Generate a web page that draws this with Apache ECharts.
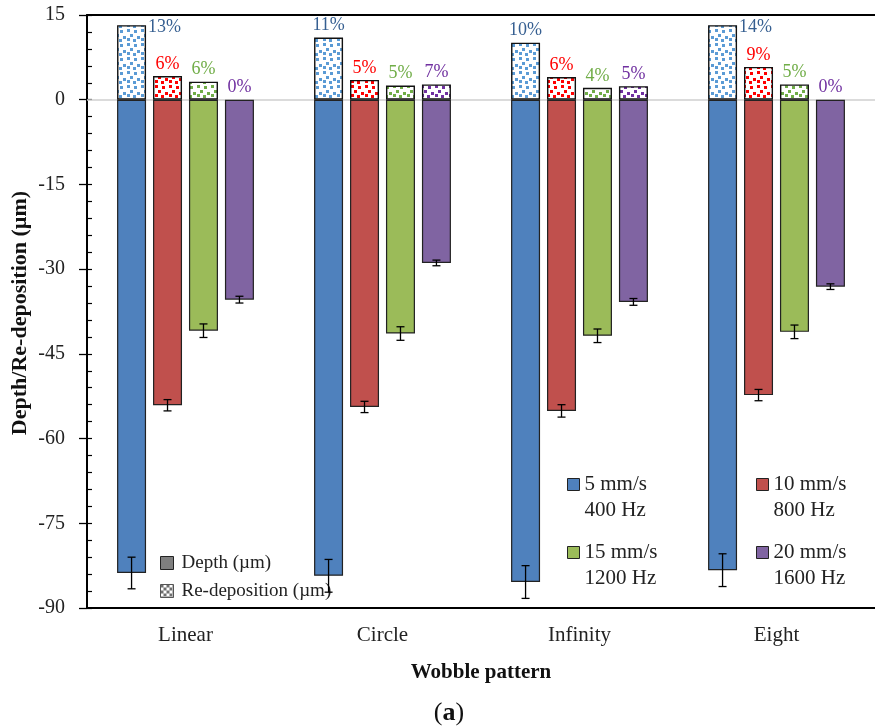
<!DOCTYPE html>
<html>
<head>
<meta charset="utf-8">
<script src="https://cdn.jsdelivr.net/npm/echarts@6/dist/echarts.min.js"></script>
<style>html,body{margin:0;padding:0;background:#fff}#c{width:875px;height:726px}</style>
</head>
<body>
<div id="c"></div>
<script>
// ---- data ----
const categories = ['Linear', 'Circle', 'Infinity', 'Eight'];
const speedNames = ['5 mm/s\n400 Hz', '10 mm/s\n800 Hz', '15 mm/s\n1200 Hz', '20 mm/s\n1600 Hz'];
const depth5  = [-83.8, -84.3, -85.4, -83.3];
const depth10 = [-54.1, -54.4, -55.1, -52.3];
const depth15 = [-40.9, -41.4, -41.8, -41.1];
const depth20 = [-35.4, -28.9, -35.8, -33.1];
const err5  = [2.8, 2.9, 2.9, 2.9];
const err10 = [1.0, 1.0, 1.1, 1.0];
const err15 = [1.2, 1.2, 1.2, 1.2];
const err20 = [0.6, 0.5, 0.6, 0.5];
const redep5  = [13.2, 11.0, 10.1, 13.2];
const redep10 = [4.2, 3.5, 4.0, 5.8];
const redep15 = [3.2, 2.5, 2.1, 2.7];
const redep20 = [0, 2.7, 2.4, 0];
const pct5  = ['13%', '11%', '10%', '14%'];
const pct10 = ['6%', '5%', '6%', '9%'];
const pct15 = ['6%', '5%', '4%', '5%'];
const pct20 = ['0%', '7%', '5%', '0%'];
const yTicks = [-90, -75, -60, -45, -30, -15, 0, 15];

// ---- styling ----
const FONT = '"Liberation Serif", "DejaVu Serif", serif';
const depthColors = ['#4f81bd', '#c0504d', '#9bbb59', '#8064a2'];
const dotColors = ['#5b9bd5', '#ff0000', '#70ad47', '#7030a0'];
const labelColors = ['#365f91', '#ff0000', '#70ad47', '#7030a0'];
const depths = [depth5, depth10, depth15, depth20];
const errs = [err5, err10, err15, err20];
const redeps = [redep5, redep10, redep15, redep20];
const pcts = [pct5, pct10, pct15, pct20];
const rightLabel = {0: [0, 3]}; // series 0: categories whose label sits right of the bar

function makePattern(color) {
  const c = document.createElement('canvas');
  c.width = 14; c.height = 14;
  const g = c.getContext('2d');
  g.fillStyle = '#ffffff'; g.fillRect(0, 0, 14, 14);
  g.fillStyle = color;
  [[1, 1], [8, 2], [4, 6], [11, 8], [1, 10], [7, 11]].forEach(p => g.fillRect(p[0], p[1], 3, 3));
  return { image: c, repeat: 'repeat' };
}
function makeLegendPattern() {
  const c = document.createElement('canvas');
  c.width = 6; c.height = 6;
  const g = c.getContext('2d');
  g.fillStyle = '#ffffff'; g.fillRect(0, 0, 6, 6);
  g.fillStyle = '#6f6f6f';
  g.fillRect(0, 0, 3, 3); g.fillRect(3, 3, 3, 3);
  return { image: c, repeat: 'repeat' };
}

const series = [];
for (let s = 0; s < 4; s++) {
  const ser = {
    name: speedNames[s], type: 'bar', stack: 'g' + s, xAxisIndex: 0, barWidth: 29, barGap: '24%',
    data: depths[s],
    itemStyle: { color: depthColors[s], borderColor: '#222', borderWidth: 1.2 },
    emphasis: { disabled: true }
  };
  if (s === 0) {
    ser.markLine = {
      silent: true, symbol: 'none', label: { show: false },
      lineStyle: { color: '#cfcfcf', width: 1.5, type: 'solid' },
      data: [{ yAxis: 0 }], z: 1
    };
  }
  series.push(ser);
}
for (let s = 0; s < 4; s++) {
  const rights = rightLabel[s] || [];
  series.push({
    name: 'Re-deposition (µm)', type: 'bar', xAxisIndex: 1, barWidth: 29, barGap: '24%',
    data: redeps[s].map((v, i) => {
      const item = { value: v };
      if (v === 0) item.itemStyle = { borderWidth: 0 };
      if (rights.indexOf(i) >= 0) item.label = { offset: [33, 14] };
      return item;
    }),
    itemStyle: { color: makePattern(dotColors[s]), borderColor: '#111', borderWidth: 1.4 },
    label: {
      show: true, position: 'top', distance: 3,
      formatter: p => pcts[s][p.dataIndex],
      fontFamily: FONT, fontSize: 18, color: labelColors[s]
    },
    emphasis: { disabled: true }
  });
}
// legend helper series (no data)
series.push({ name: 'Depth (µm)', type: 'bar', stack: 'g0', xAxisIndex: 0, barWidth: 29, barGap: '24%', data: [],
  itemStyle: { color: '#7f7f7f', borderColor: '#222', borderWidth: 1 } });

// error bars
const errData = [];
for (let s = 0; s < 4; s++) for (let c = 0; c < 4; c++) errData.push([c, depths[s][c], errs[s][c], s]);
series.push({
  type: 'custom', name: 'err', z: 10, silent: true,
  encode: { x: 0, y: 1 },
  data: errData,
  renderItem: (params, api) => {
    const c = api.value(0), v = api.value(1), e = api.value(2), s = api.value(3);
    const off = (s - 1.5) * (29 + 29 * 0.24);
    const t = api.coord([c, v + e]), b = api.coord([c, v - e]);
    const x = t[0] + off;
    const st = { stroke: '#000', lineWidth: 1.3 };
    return { type: 'group', children: [
      { type: 'line', shape: { x1: x, y1: t[1], x2: x, y2: b[1] }, style: st },
      { type: 'line', shape: { x1: x - 4, y1: t[1], x2: x + 4, y2: t[1] }, style: st },
      { type: 'line', shape: { x1: x - 4, y1: b[1], x2: x + 4, y2: b[1] }, style: st }
    ] };
  }
});

function speedLegend(i, left, top) {
  return {
    data: [speedNames[i]], left: left, top: top, padding: 0,
    icon: 'rect', itemWidth: 12, itemHeight: 12, selectedMode: false,
    itemStyle: { borderColor: '#222', borderWidth: 1 },
    formatter: name => ' \n' + name,
    textStyle: { fontFamily: FONT, fontSize: 21, color: '#222', lineHeight: 26 }
  };
}

const chart = echarts.init(document.getElementById('c'), null, { renderer: 'canvas' });
chart.setOption({
  animation: false,
  backgroundColor: '#fff',
  grid: { left: 87, right: -5, top: 15, bottom: 118, containLabel: false },
  xAxis: [
    { type: 'category', data: categories, position: 'bottom',
      axisLine: { onZero: false, lineStyle: { color: '#000', width: 2 } },
      axisTick: { show: false },
      axisLabel: { fontFamily: FONT, fontSize: 21, color: '#222', margin: 17 },
      name: 'Wobble pattern', nameLocation: 'middle', nameGap: 54,
      nameTextStyle: { fontFamily: FONT, fontSize: 21, fontWeight: 'bold', color: '#111' } },
    { type: 'category', data: categories, position: 'top',
      axisLine: { onZero: false, lineStyle: { color: '#000', width: 2 } },
      axisTick: { show: false }, axisLabel: { show: false } }
  ],
  yAxis: [
    { type: 'value', min: yTicks[0], max: yTicks[yTicks.length - 1], interval: 15, position: 'left',
      axisLine: { show: true, lineStyle: { color: '#000', width: 2 } },
      axisTick: { show: true, length: 8, lineStyle: { color: '#000', width: 1.3 } },
      axisLabel: { fontFamily: FONT, fontSize: 20, color: '#222', margin: 22 },
      splitLine: { show: false } },
    { type: 'value', min: yTicks[0], max: yTicks[yTicks.length - 1], interval: 3, position: 'left',
      axisLine: { show: false },
      axisTick: { show: true, inside: true, length: 5, lineStyle: { color: '#000', width: 1.2 } },
      axisLabel: { show: false }, splitLine: { show: false } }
  ],
  legend: [
    { data: ['Depth (µm)', { name: 'Re-deposition (µm)', itemStyle: { color: makeLegendPattern(), borderColor: '#555', borderWidth: 1 } }],
      orient: 'vertical', left: 160, top: 553, padding: 0, itemGap: 8,
      icon: 'rect', itemWidth: 13, itemHeight: 13, selectedMode: false,
      itemStyle: { borderColor: '#222', borderWidth: 1 },
      textStyle: { fontFamily: FONT, fontSize: 19, color: '#222', lineHeight: 20, padding: [0, 0, 0, 3] } },
    speedLegend(0, 567, 445.5),
    speedLegend(1, 756, 445.5),
    speedLegend(2, 567, 513.5),
    speedLegend(3, 756, 513.5)
  ],
  graphic: [
    { type: 'text', x: 20, y: 313, rotation: Math.PI / 2,
      style: { text: 'Depth/Re-deposition (µm)', fontFamily: FONT, fontSize: 22, fontWeight: 'bold', fill: '#111',
        textAlign: 'center', textVerticalAlign: 'middle' } },
    { type: 'text', x: 449, y: 713,
      style: { text: '{p|(}{b|a}{p|)}', textAlign: 'center', textVerticalAlign: 'middle',
        rich: { p: { fontFamily: FONT, fontSize: 26, fill: '#111' }, b: { fontFamily: FONT, fontSize: 26, fontWeight: 'bold', fill: '#111' } } } }
  ],
  series: series
});
</script>
</body>
</html>
